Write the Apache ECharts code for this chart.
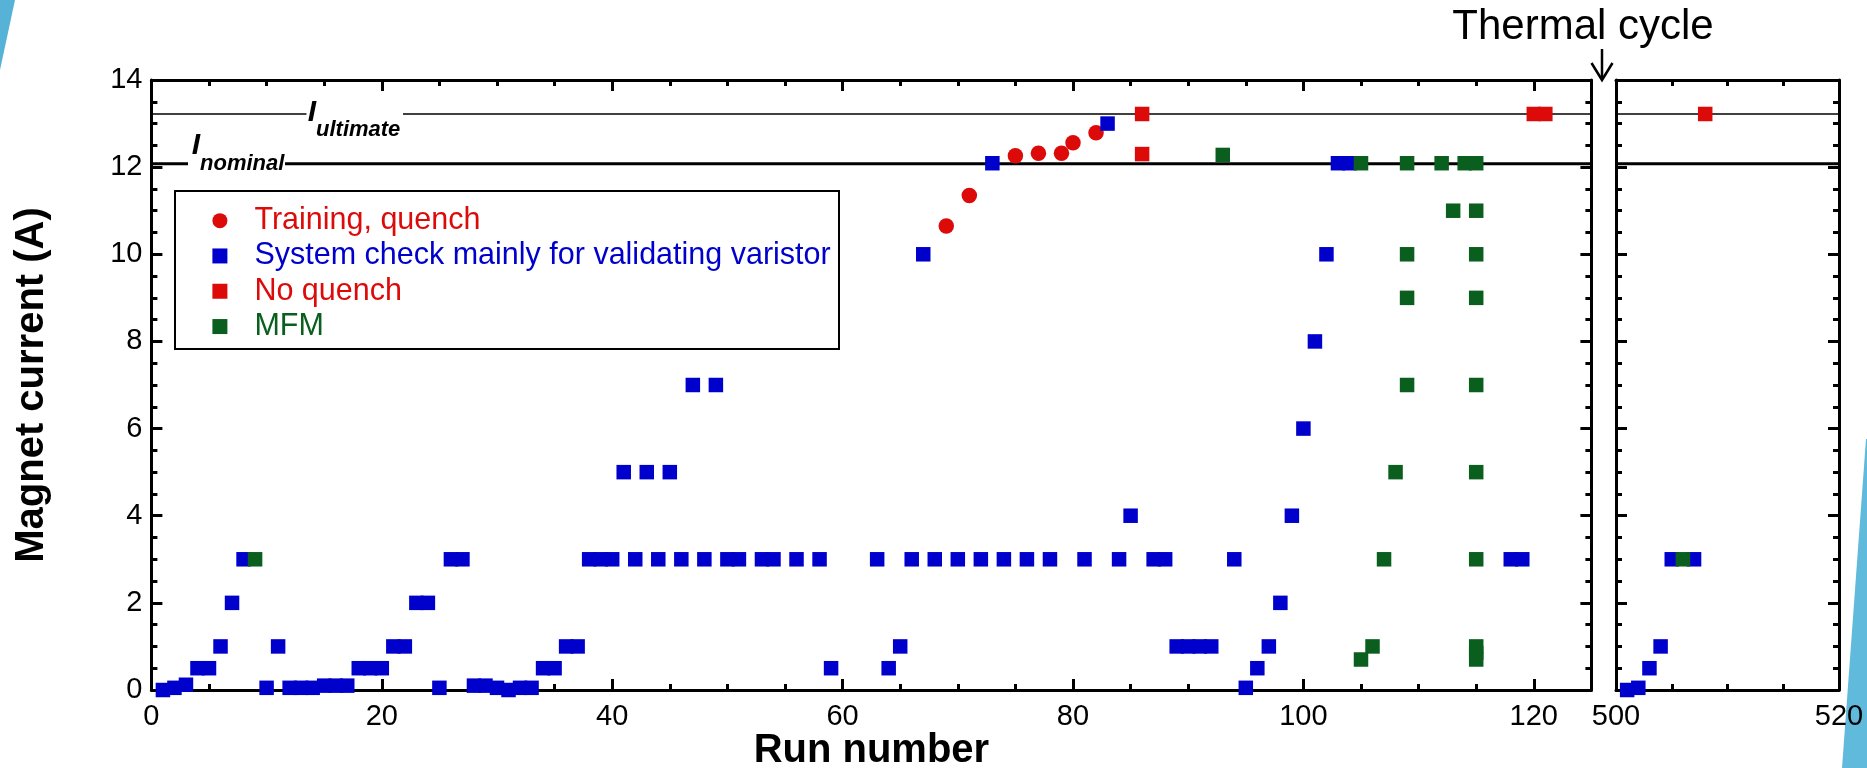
<!DOCTYPE html>
<html><head><meta charset="utf-8">
<script src="https://cdn.jsdelivr.net/npm/echarts@6/dist/echarts.min.js"></script>
<style>html,body{margin:0;padding:0;background:#fff}#c{width:1867px;height:768px}</style>
</head><body><div id="c"></div>
<script>
// ---- data (run number, magnet current in A) ----
const trainingQuench = [[69,10.65],[71,11.35],[75,12.26],[77,12.32],[79,12.32],[80,12.56],[82,12.79]];
const systemCheck = [
  [1,0],[2,0.05],[3,0.12],[4,0.5],[5,0.5],[6,1],[7,2],[8,3],[10,0.05],[11,1],
  [12,0.05],[13,0.05],[14,0.05],[15,0.1],[16,0.1],[17,0.1],[18,0.5],[19,0.5],[20,0.5],
  [21,1],[22,1],[23,2],[24,2],[25,0.05],[26,3],[27,3],[28,0.1],[29,0.1],[30,0.05],[31,0],
  [32,0.05],[33,0.05],[34,0.5],[35,0.5],[36,1],[37,1],[38,3],[39,3],[40,3],[41,5],[42,3],
  [43,5],[44,3],[45,5],[46,3],[47,7],[48,3],[49,7],[50,3],[51,3],[53,3],[54,3],[56,3],
  [58,3],[59,0.5],[63,3],[64,0.5],[65,1],[66,3],[67,10],[68,3],[70,3],[72,3],[73,12.09],
  [74,3],[76,3],[78,3],[81,3],[83,13.0],[84,3],[85,4],[87,3],[88,3],[89,1],[90,1],[91,1],
  [92,1],[94,3],[95,0.05],[96,0.5],[97,1],[98,2],[99,4],[100,6],[101,8],[102,10],
  [103,12.09],[104,12.09],[118,3],[119,3]
];
const noQuench = [[86,13.22],[86,12.3],[120,13.22],[121,13.22]];
const mfm = [
  [9,3],[93,12.28],[105,12.09],[105,0.7],[106,1],[107,3],[108,5],[109,12.09],[109,10],
  [109,9],[109,7],[112,12.09],[113,11],[114,12.09],[115,12.09],[115,11],[115,10],[115,9],
  [115,7],[115,5],[115,3],[115,1],[115,0.85],[115,0.7]
];
// after thermal cycle
const systemCheckAfter = [[501,0],[502,0.05],[503,0.5],[504,1],[505,3],[507,3]];
const mfmAfter = [[506,3]];
const noQuenchAfter = [[508,13.22]];
// reference currents
const ultimateCurrent = 13.22;
const nominalCurrent = 12.08;
// axes
const runRangeBefore = [0, 125];
const runRangeAfter = [500, 520];
const currentRange = [0, 14];
// label gaps in the reference lines (run numbers)
const ultimateGap = [13.46, 21.84];
const nominalGap = [3.18, 11.6];

const FONT = 'Liberation Sans, Arial, Helvetica, sans-serif';
const RED = '#dd0a0a', BLUE = '#0000cc', GREEN = '#0a5f1e';

function ax(grid, pos, range, interval, len, opts) {
  return Object.assign({
    type: 'value', gridIndex: grid, position: pos, min: range[0], max: range[1], interval: interval,
    axisLine: {show: true, onZero: false, lineStyle: {color: '#000', width: 3}},
    axisTick: {show: true, inside: true, length: len, lineStyle: {color: '#000', width: 3}},
    axisLabel: {show: false},
    splitLine: {show: false},
    nameMoveOverlap: false
  }, opts || {});
}
const lab = (extra) => Object.assign({show: true, fontSize: 29, color: '#000', fontFamily: FONT}, extra);

const xAxis = [
  ax(0, 'bottom', runRangeBefore, 20, 11, {axisLabel: lab({margin: 12, showMaxLabel: false}),
     name: 'Run number', nameLocation: 'middle', nameGap: 41,
     nameTextStyle: {fontSize: 40, fontWeight: 'bold', color: '#000', fontFamily: FONT}}),
  ax(0, 'bottom', runRangeBefore, 5, 6, {axisLine: {show: false, onZero: false}}),
  ax(0, 'top', runRangeBefore, 20, 11),
  ax(0, 'top', runRangeBefore, 5, 6, {axisLine: {show: false, onZero: false}}),
  ax(1, 'bottom', runRangeAfter, 20, 11, {axisLabel: lab({margin: 12})}),
  ax(1, 'bottom', runRangeAfter, 5, 6, {axisLine: {show: false, onZero: false}}),
  ax(1, 'top', runRangeAfter, 20, 11),
  ax(1, 'top', runRangeAfter, 5, 6, {axisLine: {show: false, onZero: false}})
];
const yAxis = [
  ax(0, 'left', currentRange, 2, 11, {axisLabel: lab({margin: 9}),
     name: 'Magnet current (A)', nameLocation: 'middle', nameGap: 99,
     nameTextStyle: {fontSize: 40, fontWeight: 'bold', color: '#000', fontFamily: FONT}}),
  ax(0, 'left', currentRange, 0.5, 6, {axisLine: {show: false, onZero: false}}),
  ax(0, 'right', currentRange, 2, 11),
  ax(0, 'right', currentRange, 0.5, 6, {axisLine: {show: false, onZero: false}}),
  ax(1, 'left', currentRange, 2, 11),
  ax(1, 'left', currentRange, 0.5, 6, {axisLine: {show: false, onZero: false}}),
  ax(1, 'right', currentRange, 2, 11),
  ax(1, 'right', currentRange, 0.5, 6, {axisLine: {show: false, onZero: false}})
];

function pts(name, data, symbol, size, color, xi, yi) {
  return {name, type: 'scatter', data, symbol, symbolSize: size, xAxisIndex: xi, yAxisIndex: yi,
    itemStyle: {color, opacity: 1}, clip: false, z: 5, emphasis: {disabled: true}};
}
function hline(y, x0, x1, w, xi, yi) {
  return {type: 'line', data: [[x0, y], [x1, y]], xAxisIndex: xi, yAxisIndex: yi, symbol: 'none',
    lineStyle: {color: '#000', width: w}, silent: true, z: 3, animation: false};
}
const N1 = 'Training, quench', N2 = 'System check mainly for validating varistor', N3 = 'No quench', N4 = 'MFM';
const series = [
  hline(ultimateCurrent, runRangeBefore[0], ultimateGap[0], 1.5, 0, 0),
  hline(ultimateCurrent, ultimateGap[1], runRangeBefore[1], 1.5, 0, 0),
  hline(nominalCurrent, runRangeBefore[0], nominalGap[0], 3, 0, 0),
  hline(nominalCurrent, nominalGap[1], runRangeBefore[1], 3, 0, 0),
  hline(ultimateCurrent, runRangeAfter[0], runRangeAfter[1], 1.5, 4, 4),
  hline(nominalCurrent, runRangeAfter[0], runRangeAfter[1], 3, 4, 4),
  pts(N1, trainingQuench, 'circle', 15.5, RED, 0, 0),
  pts(N2, systemCheck, 'rect', 14.5, BLUE, 0, 0),
  pts(N3, noQuench, 'rect', 14.5, RED, 0, 0),
  pts(N4, mfm, 'rect', 14.5, GREEN, 0, 0),
  pts(N2, systemCheckAfter, 'rect', 14.5, BLUE, 4, 4),
  pts(N4, mfmAfter, 'rect', 14.5, GREEN, 4, 4),
  pts(N3, noQuenchAfter, 'rect', 14.5, RED, 4, 4)
];
const SQ = 'path://M0,0H10V10H0Z';
const chart = echarts.init(document.getElementById('c'), null, {renderer: 'canvas', devicePixelRatio: 1});
chart.setOption({
  animation: false,
  backgroundColor: '#fff',
  textStyle: {fontFamily: FONT},
  grid: [
    {left: 151.4, top: 80, width: 1440, height: 610, outerBoundsMode: 'none', containLabel: false},
    {left: 1616, top: 80, width: 223, height: 610, outerBoundsMode: 'none', containLabel: false}
  ],
  xAxis, yAxis, series,
  legend: {
    orient: 'vertical', left: 212.4, top: 203, padding: 0, itemGap: 0,
    itemWidth: 59, itemHeight: 15, selectedMode: false,
    textStyle: {fontSize: 30.5, lineHeight: 35.3, fontFamily: FONT},
    data: [
      {name: N1, icon: 'circle', textStyle: {color: RED}},
      {name: N2, icon: SQ, textStyle: {color: BLUE}},
      {name: N3, icon: SQ, textStyle: {color: RED}},
      {name: N4, icon: SQ, textStyle: {color: GREEN}}
    ]
  },
  graphic: [
    {type: 'polygon', shape: {points: [[0,0],[15,0],[0,70]]}, style: {fill: '#56b2d6'}, silent: true},
    {type: 'polygon', shape: {points: [[1866,439],[1867,439],[1867,768],[1842,768]]}, style: {fill: '#5fbadc'}, silent: true},
    {type: 'rect', shape: {x: 175, y: 191, width: 664, height: 158}, style: {fill: 'none', stroke: '#000', lineWidth: 2}, z: 1, silent: true},
    {type: 'text', x: 312, y: 112.5, style: {text: 'I', fontSize: 30, fontWeight: 'bold', fontStyle: 'italic', fontFamily: FONT, fill: '#000', align: 'center', verticalAlign: 'middle'}},
    {type: 'text', x: 316, y: 130.3, style: {text: 'ultimate', fontSize: 22, fontWeight: 'bold', fontStyle: 'italic', fontFamily: FONT, fill: '#000', align: 'left', verticalAlign: 'middle'}},
    {type: 'text', x: 196, y: 146, style: {text: 'I', fontSize: 30, fontWeight: 'bold', fontStyle: 'italic', fontFamily: FONT, fill: '#000', align: 'center', verticalAlign: 'middle'}},
    {type: 'text', x: 200, y: 164.3, style: {text: 'nominal', fontSize: 22, fontWeight: 'bold', fontStyle: 'italic', fontFamily: FONT, fill: '#000', align: 'left', verticalAlign: 'middle'}},
    {type: 'text', x: 1583, y: 27, style: {text: 'Thermal cycle', fontSize: 42, fontFamily: FONT, fill: '#000', align: 'center', verticalAlign: 'middle'}},
    {type: 'line', shape: {x1: 1602, y1: 49, x2: 1602, y2: 79}, style: {stroke: '#000', lineWidth: 2.5}},
    {type: 'polyline', shape: {points: [[1591.5,63],[1602,80],[1612.5,63]]}, style: {stroke: '#000', lineWidth: 2.5, fill: 'none'}}
  ]
});
</script></body></html>
